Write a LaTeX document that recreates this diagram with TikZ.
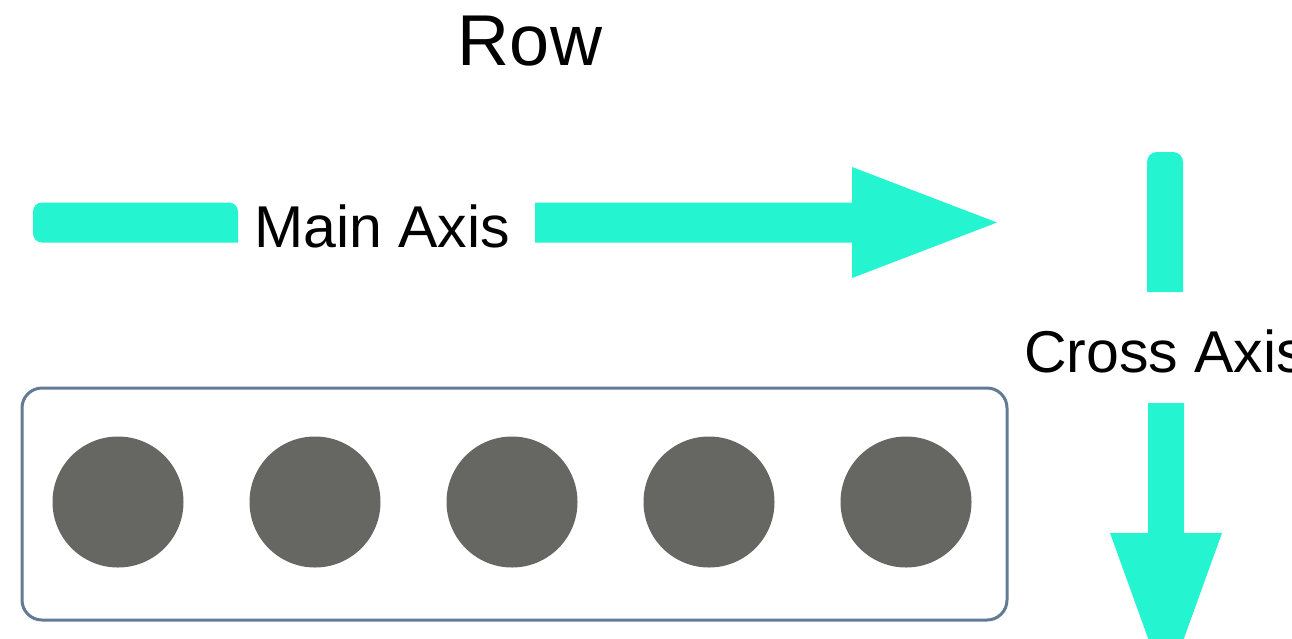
\documentclass[tikz,border=0pt]{standalone}
\usepackage{fontspec}
\setmainfont{Liberation Sans}
\definecolor{axiscol}{RGB}{36,244,208}
\definecolor{dotcol}{RGB}{102,102,98}
\definecolor{boxcol}{RGB}{98,122,148}
\tikzset{
  axisshape/.style={fill=axiscol, draw=none},
  dot/.style={circle, fill=dotcol, draw=none, minimum size=131pt, inner sep=0pt},
  lbl/.style={font=\fontsize{59}{59}\selectfont, inner sep=0pt, anchor=base west},
  titlelbl/.style={font=\fontsize{72}{72}\selectfont, inner sep=0pt, anchor=base},
  container/.style={draw=boxcol, line width=3pt, rounded corners=20pt, fill=white}
}
\begin{document}
\begin{tikzpicture}[x=1pt,y=-1pt]
\useasboundingbox (0,0) rectangle (1292,638);
\fill[white] (0,0) rectangle (1292,638);
% title
\node[titlelbl] (title) at (530,65) {Row};
% main axis
\node[lbl] (mainlbl) at (254,247) {Main Axis};
\fill[axisshape, rounded corners=9pt] (33,202.5) -- (238,202.5) [sharp corners] -- (238,242.5) [rounded corners=9pt] -- (33,242.5) -- cycle;
\coordinate (mtip) at (997,222.5);
\fill[axisshape] (535,202.5) -- (852,202.5) -- (852,167) -- (mtip) -- (852,278) -- (852,242.5) -- (535,242.5) -- cycle;
% cross axis
\node[lbl] (crosslbl) at (1024,372) {Cross Axis};
\fill[axisshape, rounded corners=10pt] (1147,292) -- (1147,152) -- (1183,152) [sharp corners] -- (1183,292) -- cycle;
\coordinate (ctip) at (1166,688);
\fill[axisshape] (1148,403) -- (1184,403) -- (1184,533) -- (1222,533) -- (ctip) -- (1110,533) -- (1148,533) -- cycle;
% container
\draw[container] (22,388) rectangle (1007,620);
\node[dot] (d1) at (118,502) {};
\node[dot] (d2) at (315,502) {};
\node[dot] (d3) at (512,502) {};
\node[dot] (d4) at (709,502) {};
\node[dot] (d5) at (906,502) {};
\end{tikzpicture}
\end{document}
